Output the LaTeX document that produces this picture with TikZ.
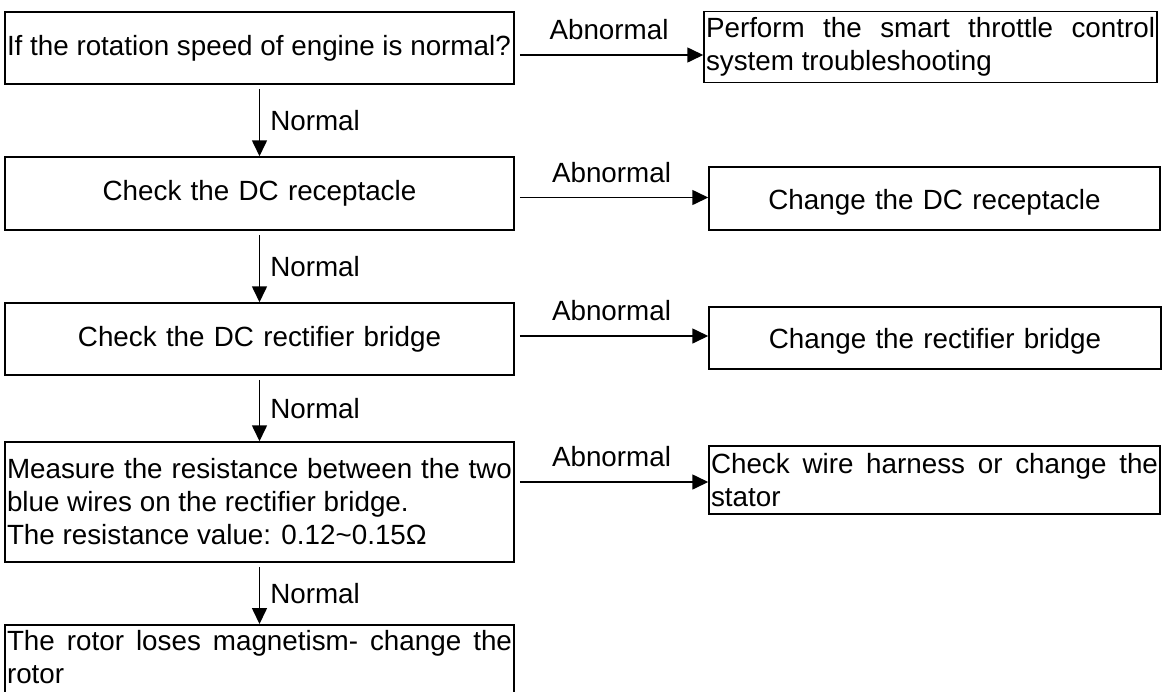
\documentclass[tikz,border=0pt]{standalone}
\usepackage{fontspec}
\setmainfont{Liberation Sans}
\usetikzlibrary{arrows.meta}
\begin{document}
\begin{tikzpicture}[x=1pt,y=-1pt,
  every node/.style={font=\fontsize{27.8}{33}\selectfont},
  stepbox/.style={draw, line width=1.5pt, inner xsep=2pt, inner ysep=0pt, align=justify},
  arr/.style={-{Triangle[length=16pt,width=15pt]}, line width=1.6pt},
  lbl/.style={inner sep=0pt}]
\useasboundingbox (0,0) rectangle (1169,691);

% main column
\node[stepbox, text width=505pt, minimum height=72pt] (b1) at (259.5,48)
  {If the rotation speed of engine is normal?};
\node[stepbox, text width=505pt, minimum height=73pt, align=center] (b2) at (259.5,193.5)
  {Check the DC receptacle};
\node[stepbox, text width=505pt, minimum height=72pt, align=center] (b3) at (259.5,339)
  {Check the DC rectifier bridge};
\node[stepbox, text width=505pt, minimum height=120pt] (b4) at (259.5,502)
  {Measure the resistance between the two\linebreak blue wires on the rectifier bridge.\\
   The resistance value: 0.12\textasciitilde 0.15Ω};
\node[stepbox, text width=505pt, anchor=north, inner ysep=6pt, text depth=45pt] (b5) at (259.5,624)
  {The rotor loses magnetism- change the\linebreak rotor};

% remedies
\node[stepbox, text width=449pt, minimum height=71pt] (r1) at (930.5,47)
  {Perform the smart throttle control\linebreak system troubleshooting};
\node[stepbox, text width=447pt, minimum height=63pt, align=center, text height=28pt] (r2) at (934.5,198.5)
  {Change the DC receptacle};
\node[stepbox, text width=448pt, minimum height=62pt, align=center, text height=27pt] (r3) at (935,338)
  {Change the rectifier bridge};
\node[stepbox, text width=447pt, minimum height=68pt] (r4) at (934.5,480)
  {Check wire harness or change the\linebreak stator};

% "Normal" branches
\foreach \a/\b in {b1/b2, b2/b3, b3/b4, b4/b5}
  \draw[arr, shorten <=4pt] (\a.south) -- (\b.north)
    node[lbl, midway, right=10pt] {Normal};

% "Abnormal" branches
\draw[arr, shorten <=5pt] ([yshift=-7pt]b1.east) -- ([yshift=-7pt]b1.east -| r1.west)
  node[lbl, midway, above=14pt] {Abnormal};
\draw[arr, shorten <=5pt] ([yshift=-4pt]b2.east) -- ([yshift=-4pt]b2.east -| r2.west)
  node[lbl, midway, above=14pt] {Abnormal};
\draw[arr, shorten <=5pt] ([yshift=3pt]b3.east) -- ([yshift=3pt]b3.east -| r3.west)
  node[lbl, midway, above=14pt] {Abnormal};
\draw[arr, shorten <=5pt] ([yshift=20pt]b4.east) -- ([yshift=20pt]b4.east -| r4.west)
  node[lbl, midway, above=14pt] {Abnormal};
\end{tikzpicture}
\end{document}
